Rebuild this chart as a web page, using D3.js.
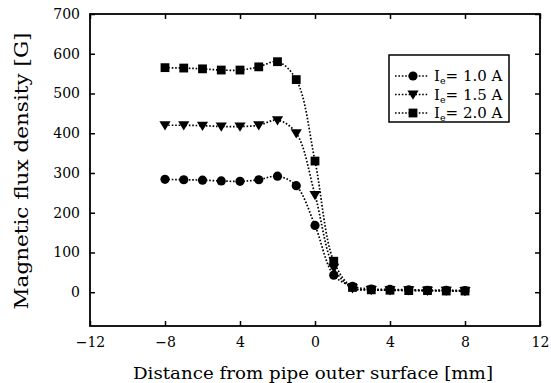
<!DOCTYPE html>
<html>
<head>
<meta charset="utf-8">
<script src="https://cdn.jsdelivr.net/npm/d3@7"></script>
<style>
  html, body { margin: 0; padding: 0; background: #fff; }
  svg { display: block; }
  text { font-family: "DejaVu Serif", "Liberation Serif", serif; fill: #000; }
</style>
</head>
<body>
<svg id="chart" width="551" height="383"></svg>
<script>
// ---- data ----
const distances = [-8, -7, -6, -5, -4, -3, -2, -1, 0, 1, 2, 3, 4, 5, 6, 7, 8];
const ie10 = [284, 283, 282, 280, 279, 283, 292, 268, 168, 43, 15, 8, 7, 6, 5, 5, 4];
const ie15 = [420, 420, 419, 417, 417, 420, 433, 400, 245, 62, 10, 6, 5, 5, 4, 4, 3];
const ie20 = [565, 564, 562, 559, 559, 567, 580, 535, 330, 78, 12, 6, 5, 4, 4, 3, 3];
const seriesNames = ["1.0 A", "1.5 A", "2.0 A"];
const seriesMarkers = ["circle", "triangle", "square"];
const xTicks = [-12, -8, -4, 0, 4, 8, 12];
const xTickLabels = ["\u221212", "\u22128", "4", "0", "4", "8", "12"];
const yTicks = [0, 100, 200, 300, 400, 500, 600, 700];
const xDomain = [-12, 12];
const yDomain = [-85, 700];

// ---- layout ----
const W = 551, H = 383;
const m = { left: 90, right: 11, top: 14, bottom: 57 };
const svg = d3.select("#chart");
const x = d3.scaleLinear().domain(xDomain).range([m.left, W - m.right]);
const y = d3.scaleLinear().domain(yDomain).range([H - m.bottom, m.top]);

const tickLen = 5;
const axB = svg.append("g").attr("transform", `translate(0,${H - m.bottom})`)
  .call(d3.axisBottom(x).tickValues(xTicks).tickSizeInner(-tickLen).tickSizeOuter(0)
    .tickPadding(11).tickFormat((d, i) => xTickLabels[i]));
const axT = svg.append("g").attr("transform", `translate(0,${m.top})`)
  .call(d3.axisTop(x).tickValues(xTicks).tickSizeInner(-tickLen).tickSizeOuter(0).tickFormat(""));
const axL = svg.append("g").attr("transform", `translate(${m.left},0)`)
  .call(d3.axisLeft(y).tickValues(yTicks).tickSizeInner(-tickLen).tickSizeOuter(0)
    .tickPadding(10).tickFormat(d3.format("d")));
const axR = svg.append("g").attr("transform", `translate(${W - m.right},0)`)
  .call(d3.axisRight(y).tickValues(yTicks).tickSizeInner(-tickLen).tickSizeOuter(0).tickFormat(""));

[axB, axT, axL, axR].forEach(g => {
  g.select(".domain").remove();
  g.selectAll(".tick line").attr("stroke", "#000").attr("stroke-width", 1.5);
  g.selectAll(".tick text").style("font-family", "DejaVu Serif, serif").style("font-size", "14px").attr("fill", "#000");
});

// frame
svg.append("rect")
  .attr("x", x(xDomain[0])).attr("y", y(yDomain[1]))
  .attr("width", x(xDomain[1]) - x(xDomain[0]))
  .attr("height", y(yDomain[0]) - y(yDomain[1]))
  .attr("fill", "none").attr("stroke", "#000").attr("stroke-width", 1.8);

// axis titles
svg.append("text")
  .attr("x", 313).attr("y", 378.5)
  .attr("text-anchor", "middle").style("font-size", "17px")
  .attr("textLength", 360).attr("lengthAdjust", "spacingAndGlyphs")
  .text("Distance from pipe outer surface [mm]");
svg.append("text")
  .attr("transform", `translate(28,171) rotate(-90)`)
  .attr("text-anchor", "middle").style("font-size", "18px")
  .attr("textLength", 277).attr("lengthAdjust", "spacingAndGlyphs")
  .text("Magnetic flux density [G]");

// markers
function drawMarker(g, type, cx, cy) {
  if (type === "circle") {
    g.append("circle").attr("cx", cx).attr("cy", cy).attr("r", 4.6).attr("fill", "#000");
  } else if (type === "square") {
    g.append("rect").attr("x", cx - 4.4).attr("y", cy - 4.4).attr("width", 8.8).attr("height", 8.8).attr("fill", "#000");
  } else {
    const s = 5.6;
    g.append("path").attr("d", `M${cx - s},${cy - s * 0.7}L${cx + s},${cy - s * 0.7}L${cx},${cy + s * 0.95}Z`).attr("fill", "#000");
  }
}

const allSeries = [ie10, ie15, ie20];
const line = d3.line().x(d => x(d[0])).y(d => y(d[1])).curve(d3.curveCatmullRom.alpha(0.5));
const plot = svg.append("g");
allSeries.forEach((vals) => {
  const pts = distances.map((d, i) => [d, vals[i]]);
  plot.append("path").attr("d", line(pts)).attr("fill", "none")
    .attr("stroke", "#000").attr("stroke-width", 1.7).attr("stroke-dasharray", "1.6,1.8");
});
allSeries.forEach((vals, si) => {
  const g = plot.append("g");
  distances.forEach((d, i) => drawMarker(g, seriesMarkers[si], x(d), y(vals[i])));
});

// legend
const lg = svg.append("g");
lg.append("rect").attr("x", 389).attr("y", 55).attr("width", 120).attr("height", 67)
  .attr("fill", "#fff").attr("stroke", "#000").attr("stroke-width", 1.5);
seriesNames.forEach((name, i) => {
  const cy = 76 + i * 18.5;
  lg.append("line").attr("x1", 395).attr("x2", 429).attr("y1", cy).attr("y2", cy)
    .attr("stroke", "#000").attr("stroke-width", 1.7).attr("stroke-dasharray", "1.6,1.8");
  drawMarker(lg, seriesMarkers[i], 413, cy);
  const t = lg.append("text").attr("x", 434).attr("y", cy + 5).style("font-size", "15px");
  t.append("tspan").text("I");
  t.append("tspan").attr("dy", 3).style("font-size", "9.5px").text("e");
  t.append("tspan").attr("dy", -3).text("= " + name);
});
</script>
</body>
</html>
